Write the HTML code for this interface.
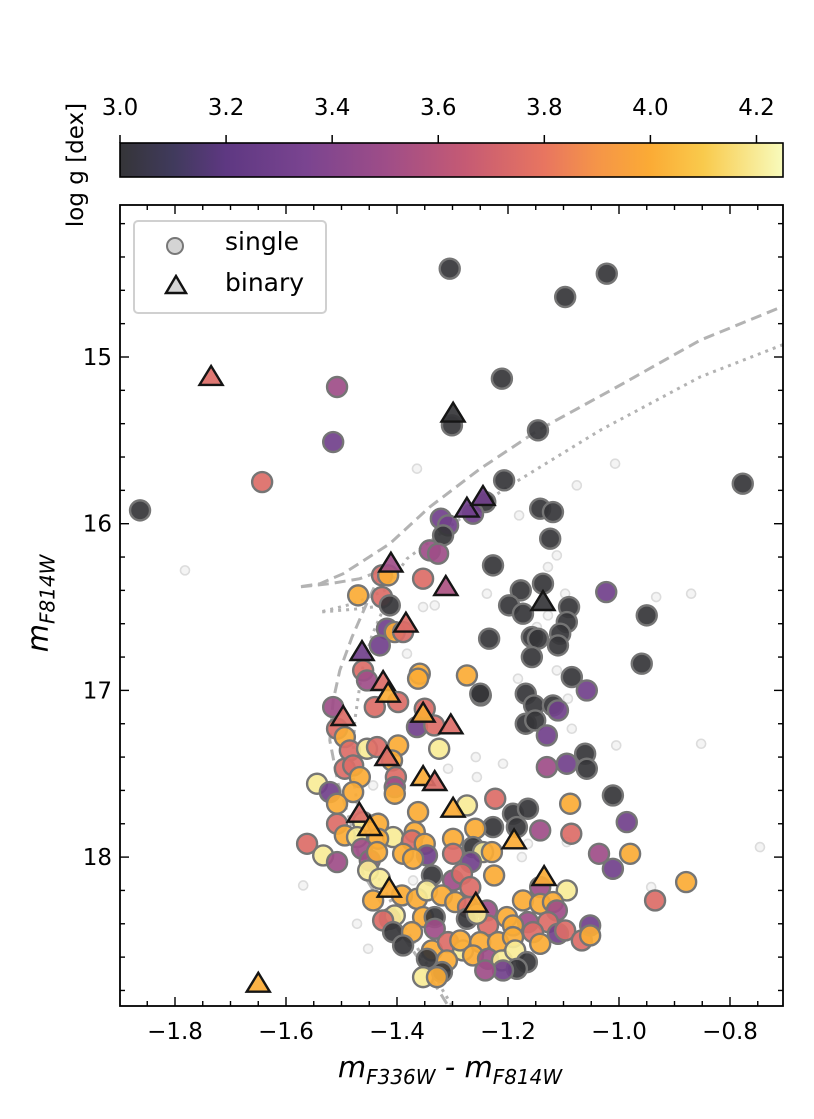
<!DOCTYPE html>
<html>
<head>
<meta charset="utf-8">
<style>
  html, body { margin: 0; padding: 0; background: #fff; }
  body { width: 814px; height: 1119px; overflow: hidden; }
  svg { display: block; font-family: "DejaVu Sans", "Liberation Sans", sans-serif; }
</style>
</head>
<body>
<svg id="chart" width="814" height="1119" viewBox="0 0 814 1119" xmlns="http://www.w3.org/2000/svg">
  <defs>
    <linearGradient id="cbgrad" x1="0" x2="1" y1="0" y2="0"></linearGradient>
    <clipPath id="plotclip"><rect x="120" y="205" width="663" height="801"></rect></clipPath>
  </defs>
  <g id="colorbar"></g>
  <g id="faint" clip-path="url(#plotclip)"></g>
  <g id="lines" clip-path="url(#plotclip)"></g>
  <g id="singles" clip-path="url(#plotclip)"></g>
  <g id="binaries" clip-path="url(#plotclip)"></g>
  <g id="axes"></g>
</svg>
<script>
// ---- data ----
const singleX = [-1.305,-1.022,-1.097,-1.211,-1.301,-1.146,-1.207,-0.777,-1.241,-1.263,-1.142,-1.119,-1.124,-1.227,-1.137,-1.177,-1.023,-1.198,-1.173,-1.090,-1.094,-1.106,-1.110,-1.157,-1.146,-0.950,-1.234,-1.157,-0.959,-1.085,-1.058,-1.249,-1.168,-1.153,-1.119,-1.110,-1.168,-1.151,-1.130,
-1.508,-1.515,-1.643,-1.863,-1.321,-1.308,-1.317,-1.341,-1.326,-1.427,-1.416,-1.353,-1.470,-1.427,-1.413,-1.418,-1.404,-1.389,-1.431,-1.461,-1.454,-1.440,-1.398,-1.359,-1.362,-1.274,-1.250,-1.350,-1.364,-1.333,
-1.515,-1.508,-1.494,-1.485,-1.454,-1.436,-1.398,-1.409,-1.324,-1.494,-1.479,-1.467,-1.402,-1.404,-1.404,-1.544,-1.521,-1.479,-1.508,-1.223,-1.088,-1.362,-1.274,-1.508,-1.461,-1.434,-1.191,-1.164,-1.184,-1.227,-1.259,-1.142,-1.086,-1.011,-0.986,-1.036,-1.011,-0.980,
-1.562,-1.494,-1.472,-1.407,-1.434,-1.368,-1.373,-1.350,-1.346,-1.389,-1.371,-1.299,-1.299,-1.263,-1.245,-1.229,-1.463,-1.449,-1.436,-1.533,-1.508,-1.452,-1.431,-1.267,-1.337,-1.299,-1.283,-1.268,-1.225,-1.142,-1.094,
-1.443,-1.391,-1.364,-1.346,-1.319,-1.295,-1.272,-1.238,-1.173,-1.142,-1.119,-1.112,-1.128,-1.164,-1.202,-1.191,-1.413,-1.404,-1.425,-1.353,-1.332,-1.332,-1.274,-1.236,-1.256,-1.407,-1.373,-1.389,-1.337,-1.308,-1.281,-1.286,-1.250,-1.218,-1.191,-1.155,-1.142,-1.110,-1.097,-1.067,-1.052,-1.052,
-1.346,-1.310,-1.263,-1.236,-1.211,-1.187,-1.166,-1.184,-1.209,-1.241,-1.353,-1.319,-1.328,-1.061,-1.058,-1.094,-1.130,-0.879,-0.935];
const singleY = [14.47,14.50,14.64,15.13,15.41,15.44,15.74,15.76,15.87,15.94,15.91,15.93,16.09,16.25,16.36,16.40,16.41,16.49,16.54,16.50,16.59,16.66,16.73,16.68,16.69,16.55,16.69,16.80,16.84,16.92,17.00,17.03,17.02,17.09,17.09,17.12,17.20,17.18,17.27,
15.18,15.51,15.75,15.92,15.97,16.01,16.07,16.16,16.18,16.31,16.31,16.33,16.43,16.44,16.49,16.63,16.65,16.65,16.73,16.88,16.94,17.10,17.07,16.90,16.93,16.91,17.02,17.11,17.22,17.21,
17.10,17.23,17.28,17.36,17.35,17.34,17.33,17.42,17.35,17.47,17.45,17.52,17.52,17.58,17.62,17.56,17.61,17.61,17.68,17.65,17.68,17.73,17.69,17.80,17.79,17.80,17.74,17.71,17.82,17.82,17.83,17.84,17.86,17.63,17.79,17.98,18.07,17.98,
17.92,17.87,17.88,17.88,17.89,17.85,17.90,17.92,17.99,17.98,18.01,17.89,17.98,17.94,17.97,17.97,17.95,18.02,17.97,17.99,18.03,18.08,18.13,18.03,18.11,18.14,18.10,18.18,18.11,18.18,18.20,
18.26,18.23,18.25,18.20,18.23,18.27,18.30,18.32,18.26,18.28,18.27,18.32,18.39,18.39,18.36,18.41,18.37,18.35,18.38,18.36,18.36,18.43,18.37,18.41,18.34,18.45,18.45,18.53,18.56,18.51,18.56,18.50,18.51,18.51,18.48,18.45,18.52,18.46,18.44,18.50,18.41,18.47,
18.61,18.62,18.59,18.61,18.62,18.56,18.63,18.67,18.68,18.68,18.72,18.69,18.72,17.38,17.47,17.44,17.46,18.15,18.26];
const singleLogg = [3.0,3.0,3.0,3.0,3.0,3.0,3.0,3.0,3.0,3.3,3.0,3.0,3.0,3.0,3.0,3.0,3.3,3.0,3.0,3.0,3.0,3.0,3.0,3.0,3.0,3.0,3.0,3.0,3.0,3.0,3.3,3.0,3.0,3.0,3.0,3.3,3.0,3.0,3.3,
3.5,3.3,3.75,3.0,3.3,3.3,3.0,3.5,3.5,3.75,4.0,3.75,4.0,3.75,3.0,3.3,4.0,3.75,3.3,3.75,3.5,3.75,3.75,4.0,4.0,4.0,3.0,3.75,3.3,3.75,
3.5,3.75,4.0,3.75,4.2,3.75,4.0,4.0,4.2,3.75,3.75,4.0,3.75,3.5,4.0,4.2,3.3,4.0,4.0,3.75,4.0,4.0,4.2,3.75,4.2,4.0,3.0,3.0,3.0,3.0,4.0,3.5,3.75,3.0,3.3,3.5,3.3,4.0,
3.75,4.0,4.2,4.2,4.0,4.0,3.75,4.0,3.3,4.0,4.0,4.0,3.75,3.0,4.2,4.0,3.5,3.5,4.0,4.2,3.5,4.2,4.2,3.3,3.0,3.5,3.75,3.75,4.0,3.5,4.2,
4.0,4.0,4.0,4.2,4.0,4.0,3.75,3.5,4.0,4.0,4.0,3.5,3.75,3.5,4.0,4.0,3.5,4.2,3.75,4.0,3.0,3.5,3.0,3.75,4.2,3.0,4.0,3.0,4.0,3.75,4.2,4.0,4.0,4.0,4.0,3.75,4.0,3.3,3.75,3.75,3.3,4.0,
3.0,4.0,4.0,3.5,4.2,4.2,3.0,3.0,3.3,3.5,4.2,3.0,4.0,3.0,3.0,3.3,3.5,4.0,3.75];

const binaryX = [-1.735,-1.299,-1.274,-1.245,-1.411,-1.312,-1.137,-1.384,-1.463,-1.425,-1.416,-1.353,-1.303,-1.497,-1.418,-1.353,-1.332,-1.299,-1.468,-1.449,-1.189,-1.135,-1.414,-1.258,-1.650];
const binaryY = [15.12,15.34,15.91,15.84,16.24,16.38,16.47,16.60,16.77,16.95,17.02,17.14,17.21,17.16,17.40,17.52,17.55,17.71,17.74,17.82,17.90,18.12,18.19,18.28,18.76];
const binaryLogg = [3.75,3.0,3.3,3.3,3.5,3.55,3.0,3.75,3.3,3.75,4.0,4.0,3.75,3.75,3.75,4.0,3.75,4.0,3.75,4.0,4.0,4.0,4.0,4.0,4.0];

const faintX = [-1.782,-1.364,-1.007,-1.076,-1.180,-1.112,-1.128,-1.238,-1.097,-0.933,-0.870,-1.353,-1.332,-1.382,-1.182,-1.112,-1.092,-1.085,-1.128,-1.148,-1.005,-1.209,-1.258,-1.308,-1.256,-1.443,-1.164,-1.175,-1.569,-1.472,-1.452,-1.094,-1.371,-0.746,-0.942,-0.852];
const faintY = [16.28,15.67,15.64,15.77,15.95,16.19,16.26,16.42,16.42,16.44,16.42,16.50,16.49,16.78,16.93,16.88,17.05,17.23,16.55,16.62,17.33,17.44,17.40,17.47,17.52,17.57,17.92,18.00,18.17,18.40,18.55,17.91,18.14,17.94,18.18,17.32];

const isoDashX = [-1.310,-1.359,-1.413,-1.461,-1.481,-1.506,-1.521,-1.515,-1.503,-1.481,-1.452,-1.427,-1.467,-1.521,-1.578,-1.539,-1.497,-1.413,-1.341,-1.250,-1.146,-1.004,-0.854,-0.700];
const isoDashY = [18.88,18.62,18.36,18.10,17.82,17.56,17.30,17.06,16.88,16.68,16.46,16.28,16.33,16.36,16.38,16.36,16.30,16.12,15.90,15.67,15.44,15.18,14.90,14.69];
const isoDotX = [-1.301,-1.350,-1.398,-1.440,-1.467,-1.481,-1.476,-1.463,-1.445,-1.422,-1.467,-1.539,-1.479,-1.422,-1.382,-1.274,-1.191,-1.034,-0.854,-0.700];
const isoDotY = [18.89,18.62,18.35,18.08,17.78,17.48,17.18,16.88,16.67,16.49,16.51,16.53,16.48,16.40,16.21,15.94,15.76,15.44,15.12,14.92];

const xTicks = [-1.8,-1.6,-1.4,-1.2,-1.0,-0.8];
const xTickLabels = ["\u22121.8","\u22121.6","\u22121.4","\u22121.2","\u22121.0","\u22120.8"];
const yTicks = [15,16,17,18];
const yTickLabels = ["15","16","17","18"];
const cbTicks = [3.0,3.2,3.4,3.6,3.8,4.0,4.2];
const cbTickLabels = ["3.0","3.2","3.4","3.6","3.8","4.0","4.2"];

// ---- scales ----
const L = 120, R = 783, T = 205, B = 1006;
function sx(v) { return 175 + (v + 1.8) * 555; }
function sy(v) { return 357 + (v - 15) * 166.7; }
const CB_L = 120, CB_R = 783, CB_T = 143, CB_B = 177, CB_MIN = 3.0, CB_MAX = 4.25;
function cbx(v) { return CB_L + (v - CB_MIN) / (CB_MAX - CB_MIN) * (CB_R - CB_L); }

const stops = [[3.0,[53,53,56]],[3.1,[64,58,92]],[3.2,[94,56,130]],[3.35,[122,68,144]],[3.5,[158,77,136]],[3.65,[197,90,116]],[3.8,[232,117,96]],[3.9,[245,149,72]],[4.0,[251,171,53]],[4.1,[249,202,76]],[4.25,[248,251,188]]];
function cmap(v) {
  if (v <= stops[0][0]) return 'rgb(' + stops[0][1].join(',') + ')';
  for (let i = 1; i < stops.length; i++) {
    if (v <= stops[i][0]) {
      const a = stops[i-1], b = stops[i], t = (v - a[0]) / (b[0] - a[0]);
      const c = a[1].map((c0, k) => Math.round(c0 + (b[1][k] - c0) * t));
      return 'rgb(' + c.join(',') + ')';
    }
  }
  return 'rgb(' + stops[stops.length-1][1].join(',') + ')';
}

const NS = 'http://www.w3.org/2000/svg';
function mk(tag, attrs, parent) {
  const e = document.createElementNS(NS, tag);
  for (const k in attrs) e.setAttribute(k, attrs[k]);
  if (parent) parent.appendChild(e);
  return e;
}

// ---- colorbar ----
const grad = document.getElementById('cbgrad');
for (const s of stops) {
  mk('stop', {offset: ((s[0]-CB_MIN)/(CB_MAX-CB_MIN)*100) + '%', 'stop-color': 'rgb(' + s[1].join(',') + ')'}, grad);
}
const cb = document.getElementById('colorbar');
const cbRect = mk('rect', {x: CB_L, y: CB_T, width: CB_R-CB_L, height: CB_B-CB_T, fill: 'url(#cbgrad)', stroke: '#000', 'stroke-width': 1.6}, cb);


cbTicks.forEach((v, i) => {
  const x = cbx(v);
  mk('line', {x1: x, x2: x, y1: CB_T, y2: CB_T - 8, stroke: '#000', 'stroke-width': 1.5}, cb);
  const t = mk('text', {x: x, y: 115, 'text-anchor': 'middle', 'font-size': 23, fill: '#000'}, cb);
  t.textContent = cbTickLabels[i];
  
  
});
const cbLab = mk('text', {x: 0, y: 0, 'text-anchor': 'middle', 'font-size': 23, transform: 'translate(83,165) rotate(-90)'}, cb);
cbLab.textContent = 'log g [dex]';



// ---- faint background stars ----
const fg = document.getElementById('faint');
for (let i = 0; i < faintX.length; i++) {
  const c = mk('circle', {cx: sx(faintX[i]), cy: sy(faintY[i]), r: 4.5, fill: '#f4f4f4', stroke: '#dcdcdc', 'stroke-width': 1.6}, fg);
  
  
}

// ---- isochrones ----
const lg = document.getElementById('lines');
function pts(xs, ys) { return xs.map((x, i) => sx(x).toFixed(1) + ',' + sy(ys[i]).toFixed(1)).join(' '); }
const dash = mk('polyline', {points: pts(isoDashX, isoDashY), fill: 'none', stroke: '#b3b3b3', 'stroke-width': 3, 'stroke-dasharray': '11,6'}, lg);


const dot = mk('polyline', {points: pts(isoDotX, isoDotY), fill: 'none', stroke: '#b3b3b3', 'stroke-width': 3, 'stroke-dasharray': '3,5'}, lg);



// ---- single stars ----
const sg = document.getElementById('singles');
for (let i = 0; i < singleX.length; i++) {
  const c = mk('circle', {cx: sx(singleX[i]), cy: sy(singleY[i]), r: 10, fill: cmap(singleLogg[i]), 'fill-opacity': 0.92, stroke: '#757575', 'stroke-width': 2.4}, sg);
  
  
}

// ---- binaries ----
const bg = document.getElementById('binaries');
function triPts(cx, cy, s) {
  return [[cx, cy - s], [cx - s*1.05, cy + s*0.72], [cx + s*1.05, cy + s*0.72]].map(p => p[0].toFixed(1) + ',' + p[1].toFixed(1)).join(' ');
}
for (let i = 0; i < binaryX.length; i++) {
  const p = mk('polygon', {points: triPts(sx(binaryX[i]), sy(binaryY[i]), 11), fill: cmap(binaryLogg[i]), 'fill-opacity': 0.92, stroke: '#151515', 'stroke-width': 2.4, 'stroke-linejoin': 'miter'}, bg);
  
  
}

// ---- axes ----
const ax = document.getElementById('axes');
const frame = mk('rect', {x: L, y: T, width: R-L, height: B-T, fill: 'none', stroke: '#000', 'stroke-width': 1.8}, ax);


for (let k = 0; k <= 24; k++) {
  const v = -1.9 + k * 0.05;
  const x = sx(v);
  if (x < L + 1 || x > R - 1) continue;
  const major = Math.abs(Math.round(v * 5) - v * 5) < 1e-6;
  const len = major ? 9 : 5;
  mk('line', {x1: x, x2: x, y1: B, y2: B - len, stroke: '#000', 'stroke-width': 1.4}, ax);
  mk('line', {x1: x, x2: x, y1: T, y2: T + len, stroke: '#000', 'stroke-width': 1.4}, ax);
}
for (let k = 0; k <= 30; k++) {
  const v = 14.0 + k * 0.2;
  const y = sy(v);
  if (y < T + 1 || y > B - 1) continue;
  const major = Math.abs(Math.round(v) - v) < 1e-6;
  const len = major ? 9 : 5;
  mk('line', {x1: L, x2: L + len, y1: y, y2: y, stroke: '#000', 'stroke-width': 1.4}, ax);
  mk('line', {x1: R, x2: R - len, y1: y, y2: y, stroke: '#000', 'stroke-width': 1.4}, ax);
}
xTicks.forEach((v, i) => {
  const t = mk('text', {x: sx(v), y: B + 33, 'text-anchor': 'middle', 'font-size': 23}, ax);
  t.textContent = xTickLabels[i];
  
  
});
yTicks.forEach((v, i) => {
  const t = mk('text', {x: L - 8, y: sy(v) + 8, 'text-anchor': 'end', 'font-size': 23}, ax);
  t.textContent = yTickLabels[i];
  
  
});
</script>
<div style="position:absolute;left:0;top:0;width:814px;height:1119px;pointer-events:none;">
  <div style="position:absolute;left:280px;top:1050px;width:340px;text-align:center;font-family:'DejaVu Sans','Liberation Sans',sans-serif;font-size:29px;font-style:italic;white-space:nowrap;">m<sub style="font-size:20px;">F336W</sub> - m<sub style="font-size:20px;">F814W</sub></div>
  <div style="position:absolute;left:-40px;top:584px;width:160px;text-align:center;transform:rotate(-90deg);font-family:'DejaVu Sans','Liberation Sans',sans-serif;font-size:29px;font-style:italic;white-space:nowrap;">m<sub style="font-size:20px;">F814W</sub></div>
  <div style="position:absolute;left:133px;top:220px;width:190px;height:90px;border:2px solid #d0d0d0;border-radius:5px;background:rgba(255,255,255,0.85);font-family:'DejaVu Sans','Liberation Sans',sans-serif;font-size:25px;">
    <div style="position:absolute;left:31px;top:12px;">
      <span style="position:absolute;left:0;top:3px;width:14px;height:14px;border-radius:50%;background:#d4d4d4;border:2.5px solid #777;"></span>
      <span style="position:absolute;left:59px;top:-7px;">single</span>
    </div>
    <div style="position:absolute;left:29px;top:52px;">
      <svg width="24" height="22" style="position:absolute;left:0;top:0;"><polygon points="12,2 2,19 22,19" fill="#d4d4d4" stroke="#111" stroke-width="2.4"/></svg>
      <span style="position:absolute;left:61px;top:-6px;">binary</span>
    </div>
  </div>
</div>
</body>
</html>
